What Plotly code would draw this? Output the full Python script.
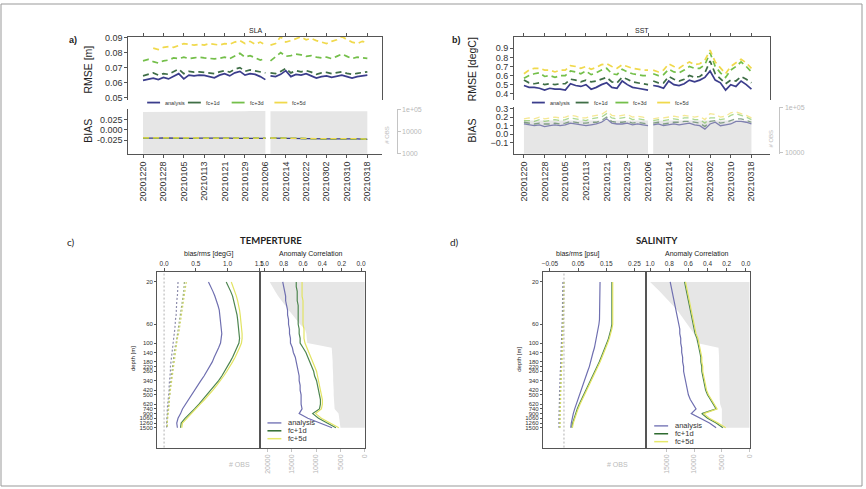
import plotly.graph_objects as go
import pandas as pd

W, H = 866, 489

# ---------------- top panels: scores every 2nd day, no data on 20210207
dates = (list(pd.date_range("2020-12-20", "2021-02-06", freq="2D"))
         + [pd.Timestamp("2021-02-07")]
         + list(pd.date_range("2021-02-08", "2021-03-18", freq="2D")))

series = ["analysis", "fc+1d", "fc+3d", "fc+5d"]

sla_rmse = {
    "analysis": [0.0615, 0.0625, 0.0630, 0.0620, 0.0635, 0.0625, 0.0640, 0.0660, 0.0625, 0.0650,
                 0.0645, 0.0650, 0.0648, 0.0640, 0.0632, 0.0650, 0.0660, 0.0645, 0.0665, 0.0675,
                 0.0650, 0.0660, 0.0655, 0.0640, 0.0620, None,
                 0.0645, 0.0640, 0.0655, 0.0680, 0.0640, 0.0655, 0.0650, 0.0660, 0.0645, 0.0630,
                 0.0640, 0.0645, 0.0635, 0.0640, 0.0650, 0.0640, 0.0630, 0.0640, 0.0645, 0.0650],
    "fc+1d": [0.0645, 0.0655, 0.0665, 0.0650, 0.0660, 0.0655, 0.0670, 0.0690, 0.0660, 0.0675,
              0.0670, 0.0672, 0.0668, 0.0665, 0.0660, 0.0672, 0.0680, 0.0670, 0.0690, 0.0700,
              0.0675, 0.0685, 0.0680, 0.0670, 0.0665, None,
              0.0665, 0.0660, 0.0675, 0.0695, 0.0665, 0.0680, 0.0672, 0.0680, 0.0670, 0.0655,
              0.0665, 0.0668, 0.0660, 0.0665, 0.0672, 0.0662, 0.0655, 0.0662, 0.0668, 0.0672],
    "fc+3d": [0.0745, 0.0755, 0.0740, 0.0730, 0.0745, 0.0750, 0.0765, 0.0760, 0.0770, 0.0760,
              0.0765, 0.0770, 0.0765, 0.0760, 0.0758, 0.0762, 0.0770, 0.0760, 0.0775, 0.0795,
              0.0770, 0.0780, 0.0765, 0.0750, 0.0760, None,
              0.0745, 0.0775, 0.0800, 0.0775, 0.0780, 0.0790, 0.0785, 0.0775, 0.0780, 0.0770,
              0.0765, 0.0770, 0.0760, 0.0775, 0.0790, 0.0775, 0.0760, 0.0770, 0.0765, 0.0762],
    "fc+5d": [None, None, 0.0830, 0.0820, 0.0835, 0.0840, 0.0835, 0.0850, 0.0860, 0.0855,
              0.0850, 0.0855, 0.0850, 0.0860, 0.0855, 0.0850, 0.0860, 0.0855, 0.0870, 0.0880,
              0.0860, 0.0875, 0.0855, 0.0870, 0.0850, None,
              0.0850, 0.0860, 0.0905, 0.0870, 0.0880, 0.0890, 0.0905, 0.0885, 0.0895, 0.0880,
              0.0870, 0.0860, 0.0875, 0.0885, 0.0905, 0.0885, 0.0870, 0.0860, 0.0875, 0.0865],
}

sla_bias = {
    "analysis": [-0.0200, -0.0205, -0.0203, -0.0200, -0.0198, -0.0202, -0.0205, -0.0200, -0.0205, -0.0208,
                 -0.0205, -0.0203, -0.0206, -0.0208, -0.0205, -0.0203, -0.0200, -0.0203, -0.0205, -0.0204,
                 -0.0206, -0.0205, -0.0204, -0.0206, -0.0205, None,
                 -0.0203, -0.0205, -0.0208, -0.0212, -0.0218, -0.0222, -0.0225, -0.0220, -0.0218, -0.0215,
                 -0.0217, -0.0220, -0.0218, -0.0216, -0.0220, -0.0218, -0.0215, -0.0220, -0.0225, -0.0230],
    "fc+1d": [-0.0198, -0.0203, -0.0201, -0.0199, -0.0196, -0.0200, -0.0203, -0.0199, -0.0203, -0.0206,
              -0.0204, -0.0201, -0.0204, -0.0206, -0.0203, -0.0201, -0.0199, -0.0201, -0.0203, -0.0202,
              -0.0204, -0.0203, -0.0202, -0.0204, -0.0203, None,
              -0.0201, -0.0203, -0.0206, -0.0210, -0.0216, -0.0220, -0.0223, -0.0218, -0.0216, -0.0213,
              -0.0215, -0.0218, -0.0216, -0.0214, -0.0218, -0.0216, -0.0213, -0.0218, -0.0223, -0.0228],
    "fc+3d": [-0.0196, -0.0201, -0.0199, -0.0197, -0.0195, -0.0198, -0.0201, -0.0197, -0.0201, -0.0204,
              -0.0202, -0.0199, -0.0202, -0.0204, -0.0201, -0.0199, -0.0197, -0.0199, -0.0201, -0.0200,
              -0.0202, -0.0201, -0.0200, -0.0202, -0.0201, None,
              -0.0199, -0.0201, -0.0204, -0.0208, -0.0214, -0.0218, -0.0221, -0.0216, -0.0214, -0.0211,
              -0.0213, -0.0216, -0.0214, -0.0212, -0.0216, -0.0214, -0.0211, -0.0216, -0.0221, -0.0226],
    "fc+5d": [-0.0195, -0.0200, -0.0198, -0.0196, -0.0194, -0.0197, -0.0200, -0.0196, -0.0200, -0.0203,
              -0.0201, -0.0198, -0.0201, -0.0203, -0.0200, -0.0198, -0.0196, -0.0198, -0.0200, -0.0199,
              -0.0201, -0.0200, -0.0199, -0.0201, -0.0200, None,
              -0.0198, -0.0200, -0.0203, -0.0207, -0.0213, -0.0217, -0.0220, -0.0215, -0.0213, -0.0210,
              -0.0212, -0.0215, -0.0213, -0.0211, -0.0215, -0.0213, -0.0210, -0.0215, -0.0220, -0.0225],
}

sla_obs = [78000, 79000, 79000, 80000, 80000, 79000, 80000, 80000, 81000, 80000,
           80000, 81000, 80000, 80000, 81000, 80000, 81000, 82000, 83000, 84000,
           86000, 88000, 88000, 88000, 88000, None,
           86000, 86000, 87000, 87000, 88000, 88000, 87000, 87000, 87000, 86000,
           86000, 86000, 85000, 85000, 85000, 85000, 85000, 84000, 84000, 84000]

sst_rmse = {
    "analysis": [0.49, 0.47, 0.47, 0.46, 0.44, 0.46, 0.45, 0.45, 0.44, 0.51,
                 0.49, 0.48, 0.50, 0.45, 0.47, 0.50, 0.52, 0.47, 0.46, 0.54,
                 0.50, 0.47, 0.46, 0.45, 0.44, None,
                 0.49, 0.48, 0.46, 0.54, 0.50, 0.49, 0.51, 0.55, 0.53, 0.55,
                 0.58, 0.65, 0.55, 0.52, 0.44, 0.50, 0.48, 0.54, 0.50, 0.45],
    "fc+1d": [0.55, 0.52, 0.51, 0.52, 0.50, 0.51, 0.50, 0.51, 0.51, 0.56,
              0.55, 0.53, 0.55, 0.53, 0.54, 0.56, 0.58, 0.53, 0.52, 0.58,
              0.56, 0.53, 0.52, 0.51, 0.50, None,
              0.54, 0.52, 0.52, 0.59, 0.56, 0.54, 0.56, 0.60, 0.58, 0.59,
              0.63, 0.76, 0.62, 0.57, 0.51, 0.55, 0.54, 0.59, 0.56, 0.52],
    "fc+3d": [0.57, 0.60, 0.62, 0.63, 0.59, 0.60, 0.58, 0.60, 0.60, 0.65,
              0.64, 0.62, 0.65, 0.61, 0.63, 0.66, 0.68, 0.62, 0.61, 0.67,
              0.64, 0.62, 0.61, 0.60, 0.60, None,
              0.62, 0.60, 0.61, 0.67, 0.64, 0.63, 0.66, 0.70, 0.68, 0.68,
              0.72, 0.85, 0.70, 0.63, 0.58, 0.66, 0.70, 0.75, 0.70, 0.64],
    "fc+5d": [0.62, 0.66, 0.68, 0.68, 0.66, 0.66, 0.64, 0.66, 0.66, 0.71,
              0.70, 0.68, 0.70, 0.67, 0.69, 0.72, 0.73, 0.70, 0.68, 0.72,
              0.70, 0.68, 0.67, 0.66, 0.66, None,
              0.66, 0.64, 0.66, 0.73, 0.70, 0.68, 0.72, 0.75, 0.72, 0.73,
              0.77, 0.88, 0.75, 0.68, 0.62, 0.70, 0.74, 0.78, 0.74, 0.68],
}

sst_bias = {
    "analysis": [0.12, 0.11, 0.10, 0.11, 0.09, 0.10, 0.11, 0.10, 0.11, 0.13,
                 0.12, 0.11, 0.10, 0.11, 0.12, 0.14, 0.18, 0.13, 0.12, 0.12,
                 0.13, 0.11, 0.12, 0.11, 0.10, None,
                 0.11, 0.12, 0.10, 0.11, 0.12, 0.11, 0.12, 0.13, 0.11, 0.10,
                 0.06, 0.12, 0.14, 0.10, 0.11, 0.12, 0.15, 0.15, 0.14, 0.12],
    "fc+1d": [0.14, 0.13, 0.12, 0.13, 0.12, 0.12, 0.13, 0.12, 0.13, 0.15,
              0.14, 0.13, 0.13, 0.14, 0.14, 0.16, 0.20, 0.15, 0.14, 0.14,
              0.15, 0.13, 0.14, 0.13, 0.12, None,
              0.13, 0.14, 0.12, 0.13, 0.14, 0.14, 0.15, 0.15, 0.14, 0.13,
              0.09, 0.15, 0.16, 0.13, 0.14, 0.16, 0.18, 0.18, 0.16, 0.14],
    "fc+3d": [0.16, 0.16, 0.15, 0.17, 0.15, 0.16, 0.17, 0.16, 0.17, 0.19,
              0.18, 0.17, 0.16, 0.18, 0.19, 0.20, 0.24, 0.19, 0.18, 0.19,
              0.20, 0.17, 0.18, 0.17, 0.16, None,
              0.16, 0.17, 0.16, 0.17, 0.18, 0.17, 0.19, 0.19, 0.17, 0.17,
              0.13, 0.19, 0.19, 0.17, 0.18, 0.22, 0.24, 0.22, 0.20, 0.17],
    "fc+5d": [0.18, 0.19, 0.18, 0.20, 0.18, 0.19, 0.20, 0.19, 0.20, 0.22,
              0.21, 0.19, 0.19, 0.21, 0.22, 0.23, 0.27, 0.22, 0.21, 0.22,
              0.23, 0.20, 0.21, 0.20, 0.18, None,
              0.18, 0.19, 0.19, 0.20, 0.21, 0.20, 0.22, 0.21, 0.20, 0.21,
              0.17, 0.24, 0.23, 0.20, 0.21, 0.25, 0.26, 0.24, 0.22, 0.19],
}

sst_obs = [52000, 52000, 53000, 52000, 52000, 52000, 53000, 52000, 52000, 53000,
           53000, 52000, 52000, 53000, 53000, 52000, 52000, 53000, 52000, 52000,
           52000, 53000, 52000, 52000, 52000, None,
           51000, 52000, 52000, 52000, 53000, 52000, 52000, 53000, 52000, 52000,
           53000, 52000, 52000, 52000, 53000, 52000, 52000, 52000, 52000, 52000]

date_ticks_start = "2020-12-20"

# ---------------- bottom panels: profiles per model level
depths = ["20", "24", "28", "32", "37", "42", "47", "52", "56", "60", "70", "80", "90", "100",
          "120", "140", "160", "180", "220", "260", "300", "340", "380", "420", "500", "560",
          "620", "740", "900", "1060", "1260", "1500"]
depth_ticks = ["20", "60", "100", "140", "180", "220", "260", "340", "420", "500",
               "620", "740", "900", "1060", "1260", "1500"]

temp_rms = {
    "analysis": [0.70, 0.74, 0.77, 0.80, 0.83, 0.85, 0.87, 0.88, 0.89, 0.90, 0.91, 0.91, 0.90, 0.89,
                 0.86, 0.82, 0.79, 0.76, 0.72, 0.68, 0.63, 0.58, 0.53, 0.48, 0.43, 0.38, 0.33, 0.29,
                 0.26, 0.22, 0.20, 0.21],
    "fc+1d": [0.98, 1.02, 1.05, 1.08, 1.10, 1.12, 1.14, 1.15, 1.16, 1.17, 1.18, 1.19, 1.19, 1.18,
              1.15, 1.12, 1.08, 1.04, 1.00, 0.96, 0.91, 0.86, 0.80, 0.74, 0.68, 0.62, 0.55, 0.48,
              0.40, 0.33, 0.27, 0.26],
    "fc+5d": [1.06, 1.09, 1.12, 1.14, 1.16, 1.18, 1.19, 1.20, 1.21, 1.22, 1.23, 1.23, 1.23, 1.22,
              1.19, 1.16, 1.12, 1.08, 1.04, 0.99, 0.94, 0.89, 0.83, 0.77, 0.71, 0.64, 0.57, 0.50,
              0.42, 0.35, 0.29, 0.28],
}
temp_bias = {
    "analysis": [0.22, 0.22, 0.21, 0.21, 0.20, 0.20, 0.19, 0.19, 0.18, 0.18, 0.17, 0.16, 0.15, 0.14,
                 0.13, 0.12, 0.12, 0.11, 0.10, 0.10, 0.09, 0.09, 0.08, 0.08, 0.07, 0.07, 0.06, 0.05,
                 0.05, 0.04, 0.04, 0.04],
    "fc+1d": [0.32, 0.32, 0.31, 0.30, 0.29, 0.28, 0.27, 0.26, 0.25, 0.24, 0.22, 0.21, 0.20, 0.19,
              0.17, 0.16, 0.15, 0.14, 0.13, 0.12, 0.11, 0.11, 0.10, 0.09, 0.09, 0.08, 0.07, 0.06,
              0.06, 0.05, 0.05, 0.05],
    "fc+5d": [0.35, 0.34, 0.33, 0.32, 0.31, 0.30, 0.29, 0.28, 0.27, 0.26, 0.24, 0.23, 0.21, 0.20,
              0.18, 0.17, 0.16, 0.15, 0.14, 0.13, 0.12, 0.11, 0.10, 0.10, 0.09, 0.08, 0.08, 0.07,
              0.06, 0.06, 0.05, 0.05],
}
temp_acc = {
    "analysis": [0.81, 0.80, 0.79, 0.78, 0.78, 0.77, 0.76, 0.76, 0.75, 0.75, 0.74, 0.74, 0.73, 0.73,
                 0.71, 0.70, 0.68, 0.67, 0.66, 0.65, 0.64, 0.64, 0.63, 0.63, 0.62, 0.62, 0.62, 0.61,
                 0.64, 0.55, 0.42, 0.30],
    "fc+1d": [0.67, 0.67, 0.66, 0.66, 0.66, 0.65, 0.65, 0.65, 0.65, 0.65, 0.64, 0.64, 0.63, 0.63,
              0.60, 0.57, 0.55, 0.53, 0.51, 0.49, 0.48, 0.46, 0.45, 0.44, 0.43, 0.42, 0.42, 0.43,
              0.50, 0.44, 0.35, 0.26],
    "fc+5d": [0.61, 0.61, 0.61, 0.61, 0.60, 0.60, 0.60, 0.60, 0.60, 0.60, 0.59, 0.59, 0.59, 0.58,
              0.56, 0.54, 0.52, 0.50, 0.48, 0.46, 0.45, 0.44, 0.43, 0.42, 0.41, 0.40, 0.40, 0.41,
              0.47, 0.41, 0.32, 0.23],
}
temp_obs = [19500, 19000, 18400, 17800, 17100, 16400, 15600, 14800, 14000, 13300, 12300, 12000,
            11900, 11800, 6800, 6700, 6700, 6600, 6600, 6500, 6500, 6500, 6400, 6400, 6400, 6300,
            6300, 6200, 5400, 5300, 5200, 5000]

sal_rms = {
    "analysis": [0.128, 0.128, 0.128, 0.128, 0.128, 0.127, 0.127, 0.127, 0.126, 0.124, 0.121,
                 0.118, 0.115, 0.112, 0.108, 0.103, 0.099, 0.095, 0.090, 0.084, 0.078, 0.072,
                 0.066, 0.060, 0.054, 0.048, 0.043, 0.038, 0.033, 0.029, 0.026, 0.024],
    "fc+1d": [0.170, 0.170, 0.170, 0.171, 0.171, 0.171, 0.171, 0.171, 0.171, 0.170, 0.167,
              0.163, 0.158, 0.152, 0.146, 0.139, 0.132, 0.125, 0.117, 0.109, 0.100, 0.092,
              0.084, 0.076, 0.068, 0.061, 0.054, 0.047, 0.041, 0.035, 0.031, 0.028],
    "fc+5d": [0.173, 0.173, 0.173, 0.174, 0.174, 0.174, 0.174, 0.174, 0.174, 0.173, 0.170,
              0.166, 0.161, 0.155, 0.149, 0.142, 0.135, 0.128, 0.120, 0.112, 0.103, 0.095,
              0.087, 0.079, 0.071, 0.064, 0.057, 0.050, 0.044, 0.038, 0.033, 0.030],
}
sal_bias = {
    "analysis": [-0.004, -0.004, -0.004, -0.005, -0.005, -0.005, -0.006, -0.006, -0.006, -0.007,
                 -0.007, -0.008, -0.008, -0.009, -0.010, -0.010, -0.011, -0.012, -0.012, -0.013,
                 -0.014, -0.014, -0.015, -0.015, -0.016, -0.016, -0.017, -0.017, -0.018, -0.018,
                 -0.018, -0.018],
    "fc+1d": [-0.001, -0.001, -0.001, -0.002, -0.002, -0.002, -0.003, -0.003, -0.003, -0.004,
              -0.004, -0.005, -0.005, -0.006, -0.007, -0.007, -0.008, -0.009, -0.009, -0.010,
              -0.011, -0.011, -0.012, -0.012, -0.013, -0.013, -0.014, -0.014, -0.015, -0.015,
              -0.015, -0.015],
    "fc+5d": [0.000, 0.000, 0.000, -0.001, -0.001, -0.001, -0.002, -0.002, -0.002, -0.003,
              -0.003, -0.004, -0.004, -0.005, -0.006, -0.006, -0.007, -0.008, -0.008, -0.009,
              -0.010, -0.010, -0.011, -0.011, -0.012, -0.012, -0.013, -0.013, -0.014, -0.014,
              -0.014, -0.014],
}
sal_acc = {
    "analysis": [0.79, 0.78, 0.77, 0.76, 0.75, 0.74, 0.73, 0.72, 0.71, 0.70, 0.69, 0.69, 0.68, 0.68,
                 0.67, 0.67, 0.66, 0.66, 0.65, 0.65, 0.64, 0.63, 0.62, 0.61, 0.60, 0.58, 0.55, 0.52,
                 0.57, 0.48, 0.38, 0.31],
    "fc+1d": [0.64, 0.63, 0.62, 0.61, 0.60, 0.59, 0.58, 0.57, 0.56, 0.55, 0.54, 0.53, 0.51, 0.50,
              0.49, 0.48, 0.47, 0.47, 0.46, 0.46, 0.45, 0.44, 0.43, 0.42, 0.40, 0.37, 0.34, 0.31,
              0.46, 0.40, 0.31, 0.24],
    "fc+5d": [0.63, 0.62, 0.61, 0.60, 0.59, 0.58, 0.57, 0.56, 0.55, 0.54, 0.53, 0.52, 0.50, 0.49,
              0.48, 0.47, 0.46, 0.46, 0.45, 0.45, 0.44, 0.43, 0.42, 0.41, 0.39, 0.36, 0.33, 0.30,
              0.44, 0.38, 0.29, 0.21],
}
sal_obs = [17900, 17000, 16200, 15400, 14600, 13800, 13000, 12400, 11800, 11200, 10600, 10000,
           9700, 9500, 5600, 5500, 5500, 5500, 5500, 5500, 5500, 5500, 5400, 5400, 5400, 5400,
           5300, 5000, 5000, 5000, 5000, 5000]

# ---------------- styling
top_colors = {"analysis": "#3b3d8c", "fc+1d": "#3f6e46", "fc+3d": "#74bf4a", "fc+5d": "#f0d94c"}
prof_colors = {"analysis": "#6f6fb0", "fc+1d": "#4e8650", "fc+5d": "#e2e463"}
bias_colors = {"analysis": "#8c8cab", "fc+1d": "#9aae7a", "fc+5d": "#cfd66a"}
FONT = "Liberation Sans"
GRAY_FILL = "#e6e6e6"
AX = "#555"


def fx(p):
    return p / W


def fy(p):
    return 1 - p / H


def seg_polys(xs, ys):
    segs, cur = [], []
    for x, y in zip(xs, ys):
        if y is None:
            if cur:
                segs.append(cur)
            cur = []
        else:
            cur.append((x, y))
    if cur:
        segs.append(cur)
    return segs


fig = go.Figure()


def add_top(xa, y_rmse, y_obs, y_bias, rmse, bias, obs, bias_opacity):
    for seg in seg_polys(dates, obs):
        fig.add_trace(go.Scatter(
            x=[p[0] for p in seg] + [seg[-1][0], seg[0][0]],
            y=[p[1] for p in seg] + [10, 10],
            fill="toself", fillcolor=GRAY_FILL, mode="lines", line=dict(width=0),
            xaxis=xa[1], yaxis=y_obs, hoverinfo="skip", showlegend=False))
    for s in series:
        dash = "solid" if s == "analysis" else "6px,4px"
        fig.add_trace(go.Scatter(
            x=dates, y=rmse[s], mode="lines", connectgaps=False,
            line=dict(color=top_colors[s], width=1.7, dash=dash),
            xaxis=xa[0], yaxis=y_rmse, hoverinfo="skip", showlegend=False))
    for s in series:
        dash = "solid" if s == "analysis" else "6px,4px"
        fig.add_trace(go.Scatter(
            x=dates, y=bias[s], mode="lines", connectgaps=False, opacity=bias_opacity,
            line=dict(color=top_colors[s], width=1.3, dash=dash),
            xaxis=xa[1], yaxis=y_bias, hoverinfo="skip", showlegend=False))


add_top(("x", "x2"), "y", "y2", "y3", sla_rmse, sla_bias, sla_obs, 1.0)
add_top(("x3", "x4"), "y4", "y5", "y6", sst_rmse, sst_bias, sst_obs, 0.6)


def add_profile(xl, yl, xo, xr, yr, rms, bias, acc, obs):
    fig.add_trace(go.Scatter(
        x=obs, y=depths, mode="lines", fill="tozerox", fillcolor=GRAY_FILL,
        line=dict(width=0), xaxis=xo, yaxis=yr, hoverinfo="skip", showlegend=False))
    for s in ["analysis", "fc+1d", "fc+5d"]:
        fig.add_trace(go.Scatter(
            x=bias[s], y=depths, mode="lines", line=dict(color=bias_colors[s], width=1.2, dash="2px,2px"),
            xaxis=xl, yaxis=yl, hoverinfo="skip", showlegend=False))
    for s in ["analysis", "fc+1d", "fc+5d"]:
        fig.add_trace(go.Scatter(
            x=rms[s], y=depths, mode="lines", line=dict(color=prof_colors[s], width=1.2),
            xaxis=xl, yaxis=yl, hoverinfo="skip", showlegend=False))
        fig.add_trace(go.Scatter(
            x=acc[s], y=depths, mode="lines", line=dict(color=prof_colors[s], width=1.2),
            xaxis=xr, yaxis=yr, hoverinfo="skip", showlegend=False))


add_profile("x5", "y7", "x6", "x7", "y8", temp_rms, temp_bias, temp_acc, temp_obs)
add_profile("x8", "y9", "x9", "x10", "y10", sal_rms, sal_bias, sal_acc, sal_obs)

tickfont = dict(family=FONT, size=9, color="#333")
small = dict(family=FONT, size=6.5, color="#333")
depthfont = dict(family=FONT, size=6, color="#333")
grayfont = dict(family=FONT, size=7, color="#b8b8b8")
DAY = 86400000
common = dict(showgrid=False, zeroline=False, showline=True, linecolor=AX, linewidth=1,
              ticks="outside", ticklen=3, tickcolor=AX)


def date_axis(dom, anchor, rng, labels, side="bottom"):
    d = dict(common, domain=[fx(dom[0]), fx(dom[1])], anchor=anchor, type="date", range=rng,
             tick0=date_ticks_start, dtick=8 * DAY, side=side)
    if labels:
        d.update(tickformat="%Y%m%d", tickangle=-90, tickfont=dict(family=FONT, size=9, color="#333"))
    else:
        d.update(showticklabels=False)
    return d


sla_x = (128, 383)
sst_x = (516, 773)
sla_rng = ["2020-12-14 05:00", "2021-03-23 16:00"]
sst_rng = ["2020-12-16 04:00", "2021-03-25 00:00"]

layout_axes = dict(
    xaxis=date_axis(sla_x, "y", sla_rng, False, side="top"),
    yaxis=dict(common, domain=[fy(97), fy(33)], anchor="x", range=[0.0487, 0.0907],
               tickvals=[0.05, 0.06, 0.07, 0.08, 0.09], tickformat=".2f", tickfont=tickfont, mirror=True),
    xaxis2=date_axis(sla_x, "y2", sla_rng, True),
    yaxis2=dict(common, domain=[fy(152), fy(107)], anchor="free", position=fx(398), side="right",
                type="log", range=[2.99, 5.01], tickvals=[1000, 10000, 100000],
                ticktext=["1000", "10000", "1e+05"], tickfont=grayfont, linecolor="#c4c4c4",
                tickcolor="#c4c4c4"),
    yaxis3=dict(common, overlaying="y2", anchor="x2", side="left", range=[-0.058, 0.049],
                tickvals=[-0.025, 0, 0.025], ticktext=["-0.025", "0.000", "0.025"], tickfont=tickfont),
    xaxis3=date_axis(sst_x, "y4", sst_rng, False, side="top"),
    yaxis4=dict(common, domain=[fy(97), fy(33)], anchor="x3", range=[0.335, 1.03],
                tickvals=[0.4, 0.5, 0.6, 0.7, 0.8, 0.9], tickformat=".1f", tickfont=tickfont, mirror=True),
    xaxis4=date_axis(sst_x, "y5", sst_rng, True),
    yaxis5=dict(common, domain=[fy(152), fy(105)], anchor="free", position=fx(783), side="right",
                type="log", range=[3.975, 5.005], tickvals=[10000, 100000],
                ticktext=["10000", "1e+05"], tickfont=grayfont, linecolor="#c4c4c4",
                tickcolor="#c4c4c4"),
    yaxis6=dict(common, overlaying="y5", anchor="x4", side="left", range=[-0.226, 0.311],
                tickvals=[-0.1, 0, 0.1, 0.2, 0.3], tickformat=".1f", tickfont=tickfont),
)

frame_top, frame_bot = 272, 450
depth_rng = [(frame_bot - 282) / 4.77, (frame_top - 282) / 4.77]


def depth_axis(anchor, labels):
    d = dict(common, domain=[fy(frame_bot), fy(frame_top)], anchor=anchor, type="category",
             categoryorder="array", categoryarray=depths, range=depth_rng, mirror=True)
    if labels:
        d.update(tickvals=depth_ticks, tickfont=depthfont, ticklen=2)
    else:
        d.update(showticklabels=False, ticks="")
    return d


def prof_axes(n, left, mid, right, xl_rng, xl_ticks, xl_fmt, obs_rng, obs_ticks):
    xl, yl, xo, xr, yr = n
    return {
        "xaxis" + xl: dict(common, domain=[fx(left), fx(mid)], anchor="y" + yl, side="top",
                           range=xl_rng, tickvals=xl_ticks, tickformat=xl_fmt, tickfont=small, mirror=True),
        "yaxis" + yl: depth_axis("x" + xl, True),
        "xaxis" + xo: dict(common, domain=[fx(mid), fx(right)], anchor="y" + yr, side="bottom",
                           range=obs_rng, tickvals=obs_ticks, ticktext=[str(v) for v in obs_ticks],
                           tickangle=-90, tickfont=grayfont, tickcolor="#c4c4c4"),
        "xaxis" + xr: dict(common, overlaying="x" + xo, anchor="y" + yr, side="top",
                           range=[1.04, -0.04], tickvals=[0, 0.2, 0.4, 0.6, 0.8, 1.0],
                           tickformat=".1f", tickfont=small),
        "yaxis" + yr: depth_axis("x" + xo, False),
    }


layout_axes.update(prof_axes(("5", "7", "6", "7", "8"), 157, 261, 366, [-0.11, 1.52],
                             [0, 0.5, 1.0, 1.5], ".1f", [21400, 0],
                             [0, 5000, 10000, 15000, 20000]))
layout_axes.update(prof_axes(("8", "9", "9", "10", "10"), 545, 649, 753, [-0.075, 0.292],
                             [-0.05, 0.05, 0.15, 0.25], ".2f", [18600, 0],
                             [0, 5000, 10000, 15000]))

annotations = []


def ann(text, x, y, size, color="#222", angle=0, family=FONT, xanchor="center", bold=False):
    if bold:
        text = "<b>" + text + "</b>"
    annotations.append(dict(text=text, x=fx(x), y=fy(y), xref="paper", yref="paper",
                            showarrow=False, textangle=angle, xanchor=xanchor, yanchor="middle",
                            font=dict(family=family, size=size, color=color)))


ann("a)", 72, 37, 9, bold=True)
ann("b)", 458, 37, 9, bold=True)
ann("SLA", 256, 27, 7)
ann("SST", 645, 27, 7)
ann("RMSE [m]", 88, 66, 10.5, angle=-90)
ann("RMSE [degC]", 474, 66, 10.5, angle=-90)
ann("BIAS", 88, 128, 10.5, angle=-90)
ann("BIAS", 474, 128, 10.5, angle=-90)
ann("# OBS", 388, 133, 6, color="#bbb", angle=-90)
ann("# OBS", 775, 137, 6, color="#bbb", angle=-90)

ann("c)", 70, 241, 10, family="Lato")
ann("d)", 456, 241, 10, family="Lato")
ann("TEMPERTURE", 272, 240, 9.5, family="Lato", bold=True)
ann("SALINITY", 660, 240, 9.5, family="Lato", bold=True)
ann("bias/rms [degG]", 209, 254, 7)
ann("Anomaly Correlation", 312, 254, 7)
ann("bias/rms [psu]", 580, 254, 7)
ann("Anomaly Correlation", 700, 254, 7)
ann("depth [m]", 133, 360, 6, angle=-90)
ann("depth [m]", 521, 360, 6, angle=-90)
ann("# OBS", 240, 467, 7, color="#bbb")
ann("# OBS", 620, 467, 7, color="#bbb")

shapes = [dict(type="rect", xref="paper", yref="paper", x0=0, x1=1, y0=0, y1=1,
               line=dict(color="#999", width=1))]

# zero reference line in the bias/rms panels
for xr_, yr_ in [("x5", "y7"), ("x8", "y9")]:
    shapes.append(dict(type="line", xref=xr_, yref=yr_ + " domain", x0=0, x1=0, y0=0, y1=1,
                       line=dict(color="#b0b0b0", width=1, dash="2px,2px")))

# legends
for x0s, y0 in [([147, 188, 232, 275], 100), ([534, 578, 618, 660], 100)]:
    for s, x0 in zip(series, x0s):
        shapes.append(dict(type="line", xref="paper", yref="paper", x0=fx(x0), x1=fx(x0 + 13),
                           y0=fy(y0), y1=fy(y0), line=dict(color=top_colors[s], width=1.8)))
        ann(s, x0 + 16, y0, 5.5, color="#333", xanchor="left")

for x0, ys in [(268, [425, 433, 441]), (657, [428, 436, 444])]:
    for s, y0 in zip(["analysis", "fc+1d", "fc+5d"], ys):
        col = {"analysis": "#7f7fbb", "fc+1d": "#2f6b30", "fc+5d": "#e6e86a"}[s]
        shapes.append(dict(type="line", xref="paper", yref="paper", x0=fx(x0), x1=fx(x0 + 14),
                           y0=fy(y0), y1=fy(y0), line=dict(color=col, width=1.5)))
        ann(s, x0 + 19, y0, 7.5, color="#333", xanchor="left")

fig.update_layout(
    width=W, height=H, margin=dict(l=0, r=0, t=0, b=0),
    paper_bgcolor="white", plot_bgcolor="rgba(0,0,0,0)",
    showlegend=False, hovermode=False,
    annotations=annotations, shapes=shapes,
    **layout_axes,
)

fig.write_html("out.html", config={"displayModeBar": False},
               post_script="document.body.style.margin='0';")
